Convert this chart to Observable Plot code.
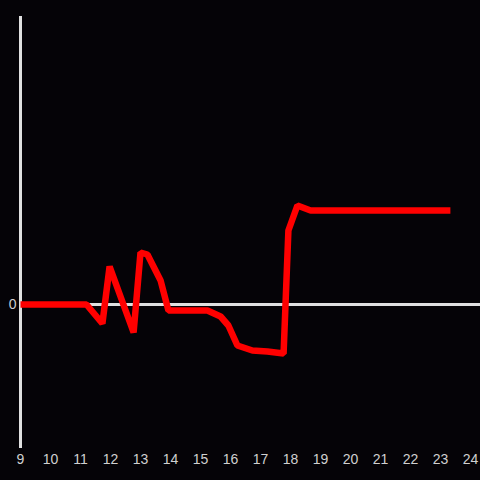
<!DOCTYPE html>
<html>
<head>
<meta charset="utf-8">
<script src="https://cdn.jsdelivr.net/npm/d3@7"></script>
<script src="https://cdn.jsdelivr.net/npm/@observablehq/plot@0.6"></script>
<style>
  html, body { margin: 0; padding: 0; background: #050307; }
  #chart { width: 480px; height: 480px; }
</style>
</head>
<body>
<div id="chart"></div>
<script>
const hours  = [9, 11.2, 11.73, 11.97, 12.77, 13.0, 13.23, 13.67, 13.93, 15.23, 15.67, 15.93, 16.23, 16.73, 17.23, 17.77, 17.93, 18.23, 18.67, 23.33];
const values = [0, 0, -19, 38, -28, 52, 50, 24, -6, -6, -12, -21, -41, -46, -47, -49, 74, 99, 94, 94];
const xTicks = [9, 10, 11, 12, 13, 14, 15, 16, 17, 18, 19, 20, 21, 22, 23, 24];
const yTicks = [0];

const data = hours.map((h, i) => ({hour: h, value: values[i]}));

const chart = Plot.plot({
  width: 480,
  height: 480,
  marginTop: 16,
  marginBottom: 32,
  marginLeft: 20,
  marginRight: 0,
  style: {background: "#050307", color: "#d0d0d0", fontSize: "14px", fontFamily: "Liberation Sans, Arial, sans-serif"},
  x: {domain: [9, 24 + 1/3], ticks: xTicks, tickSize: 0, tickPadding: 6, tickFormat: d => String(d)},
  y: {domain: [-144, 288], ticks: yTicks, tickSize: 0, tickPadding: 4, label: null},
  marks: [
    Plot.axisX({ticks: xTicks, tickSize: 0, tickPadding: 6, label: null, fill: "#d0d0d0"}),
    Plot.axisY({ticks: yTicks, tickSize: 0, tickPadding: 4, label: null, fill: "#d0d0d0"}),
    Plot.ruleY([0], {stroke: "#e0e0e0", strokeWidth: 3}),
    Plot.ruleX([9], {stroke: "#e0e0e0", strokeWidth: 3}),
    Plot.line(data, {x: "hour", y: "value", stroke: "#ff0000", strokeWidth: 6.5, strokeLinejoin: "miter", strokeLinecap: "butt"})
  ]
});
document.getElementById("chart").appendChild(chart);
</script>
</body>
</html>
